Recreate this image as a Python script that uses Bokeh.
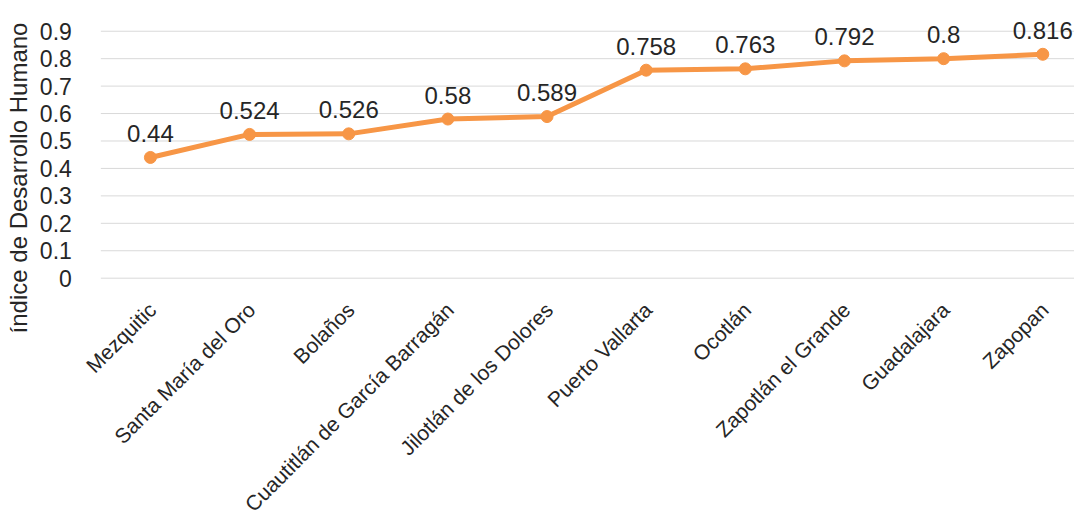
import math
from bokeh.plotting import figure
from bokeh.models import ColumnDataSource, FixedTicker, Range1d, LabelSet
from bokeh.core.properties import value
from bokeh.embed import file_html
from bokeh.resources import INLINE

# Municipalities of Jalisco and their Human Development Index
municipios = [
    "Mezquitic",
    "Santa María del Oro",
    "Bolaños",
    "Cuautitlán de García Barragán",
    "Jilotlán de los Dolores",
    "Puerto Vallarta",
    "Ocotlán",
    "Zapotlán el Grande",
    "Guadalajara",
    "Zapopan",
]
idh = [0.44, 0.524, 0.526, 0.58, 0.589, 0.758, 0.763, 0.792, 0.8, 0.816]
y_ticks = [0, 0.1, 0.2, 0.3, 0.4, 0.5, 0.6, 0.7, 0.8, 0.9]

FONT = "Liberation Sans"
TEXT = "#262626"
ORANGE = "#F79646"

X_END = 9.82
pos = [i + 0.5 for i in range(len(municipios))]
src = ColumnDataSource(dict(
    x=pos, y=idh, lbl=[f"{v:g}" for v in idh],
    base=[0] * len(pos), name=municipios,
))
grid_src = ColumnDataSource(dict(
    x0=[0] * len(y_ticks), x1=[X_END] * len(y_ticks), y=y_ticks,
))

# the frame covers the whole canvas; the value axis is pinned at x = 0
p = figure(
    width=1074, height=523,
    x_range=Range1d(-1.012, X_END), y_range=Range1d(-0.894, 1.012),
    output_backend="svg", toolbar_location=None,
    min_border_left=0, min_border_right=0,
    min_border_top=0, min_border_bottom=0,
)
p.outline_line_color = None
p.background_fill_color = "white"
p.border_fill_color = "white"
p.xgrid.visible = False
p.ygrid.visible = False

# horizontal guide lines at each tick
p.segment(x0="x0", x1="x1", y0="y", y1="y", source=grid_src,
          line_color="#d9d9d9", line_width=1)

p.line("x", "y", source=src, line_color=ORANGE, line_width=5)
p.scatter("x", "y", source=src, size=12, fill_color=ORANGE, line_color=ORANGE)
p.text("x", "y", text="lbl", source=src, text_align="center",
       text_baseline="alphabetic", y_offset=-24,
       text_font=value(FONT), text_font_size="24px", text_color=TEXT)

# y axis
yax = p.yaxis[0]
yax.fixed_location = 0
yax.bounds = (-0.17, 0.9)
yax.ticker = FixedTicker(ticks=y_ticks)
yax.major_label_overrides = {t: f"{t:g}" for t in y_ticks}
yax.axis_line_color = None
yax.major_tick_line_color = None
yax.minor_tick_line_color = None
yax.major_label_standoff = 23
yax.major_label_text_font = FONT
yax.major_label_text_font_size = "23px"
yax.major_label_text_color = TEXT
yax.axis_label = "índice de Desarrollo Humano"
yax.axis_label_text_font = FONT
yax.axis_label_text_font_size = "24px"
yax.axis_label_text_font_style = "normal"
yax.axis_label_text_color = TEXT
yax.axis_label_standoff = 5

# category names, rotated 45 degrees under each point
p.xaxis.visible = False
names = LabelSet(x="x", y="base", text="name", source=src,
                 angle=math.pi / 4, text_align="right", text_baseline="middle",
                 x_offset=2, y_offset=-28,
                 text_font=value(FONT), text_font_size="21px", text_color=TEXT)
p.add_layout(names)

open("out.html", "w").write(file_html(p, INLINE))
